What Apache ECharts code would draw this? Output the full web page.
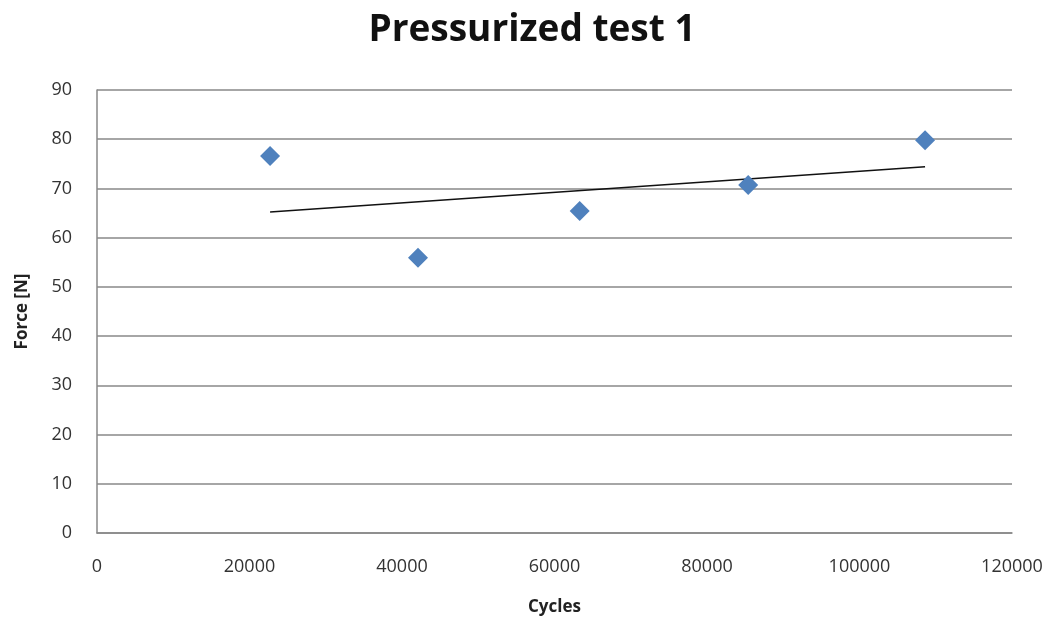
<!DOCTYPE html>
<html>
<head>
<meta charset="utf-8">
<script src="https://cdn.jsdelivr.net/npm/echarts@6/dist/echarts.min.js"></script>
<style>html,body{margin:0;padding:0;background:#fff}#c{width:1063px;height:621px}</style>
</head>
<body>
<div id="c"></div>
<script>
const cycles = [22700, 42100, 63300, 85400, 108600];
const force = [76.6, 55.9, 65.4, 70.7, 79.8];
const trendX = [22700, 108600];
const trendY = [65.2, 74.4];
const xTicks = [0, 20000, 40000, 60000, 80000, 100000, 120000];
const yTicks = [0, 10, 20, 30, 40, 50, 60, 70, 80, 90];

const pts = cycles.map((c, i) => [c, force[i]]);
const trend = trendX.map((c, i) => [c, trendY[i]]);
const font = "'Open Sans', 'Liberation Sans', sans-serif";

const chart = echarts.init(document.getElementById('c'), null, {renderer: 'canvas'});
chart.setOption({
  animation: false,
  backgroundColor: '#fff',
  title: {
    text: 'Pressurized test 1', left: 527, textAlign: 'center', top: 7,
    textStyle: {fontFamily: font, fontWeight: 'bold', fontSize: 37, color: '#111'}
  },
  grid: {left: 97, right: 51, top: 90, bottom: 88},
  xAxis: {
    type: 'value', min: xTicks[0], max: xTicks[xTicks.length - 1], interval: 20000,
    name: 'Cycles', nameLocation: 'middle', nameGap: 66,
    nameTextStyle: {fontFamily: font, fontWeight: 'bold', fontSize: 17, color: '#222'},
    axisLine: {lineStyle: {color: '#888', width: 1.5}},
    axisTick: {show: false},
    splitLine: {show: false},
    axisLabel: {fontFamily: font, fontSize: 18, color: '#333', margin: 25,
      formatter: v => String(v)}
  },
  yAxis: {
    type: 'value', min: yTicks[0], max: yTicks[yTicks.length - 1], interval: 10,
    name: 'Force [N]', nameLocation: 'middle', nameGap: 66, nameRotate: 90,
    nameTextStyle: {fontFamily: font, fontWeight: 'bold', fontSize: 17, color: '#222'},
    axisLine: {show: true, lineStyle: {color: '#888', width: 1.5}},
    axisTick: {show: false},
    splitLine: {lineStyle: {color: '#888', width: 1.5}},
    axisLabel: {fontFamily: font, fontSize: 18, color: '#333', margin: 25}
  },
  series: [
    {
      type: 'line', data: trend, symbol: 'none', silent: true,
      lineStyle: {color: '#111', width: 1.5}, z: 2
    },
    {
      type: 'scatter', data: pts, symbol: 'diamond', symbolSize: 20,
      itemStyle: {color: '#4F81BD', opacity: 1}, z: 3
    }
  ]
});
</script>
</body>
</html>
